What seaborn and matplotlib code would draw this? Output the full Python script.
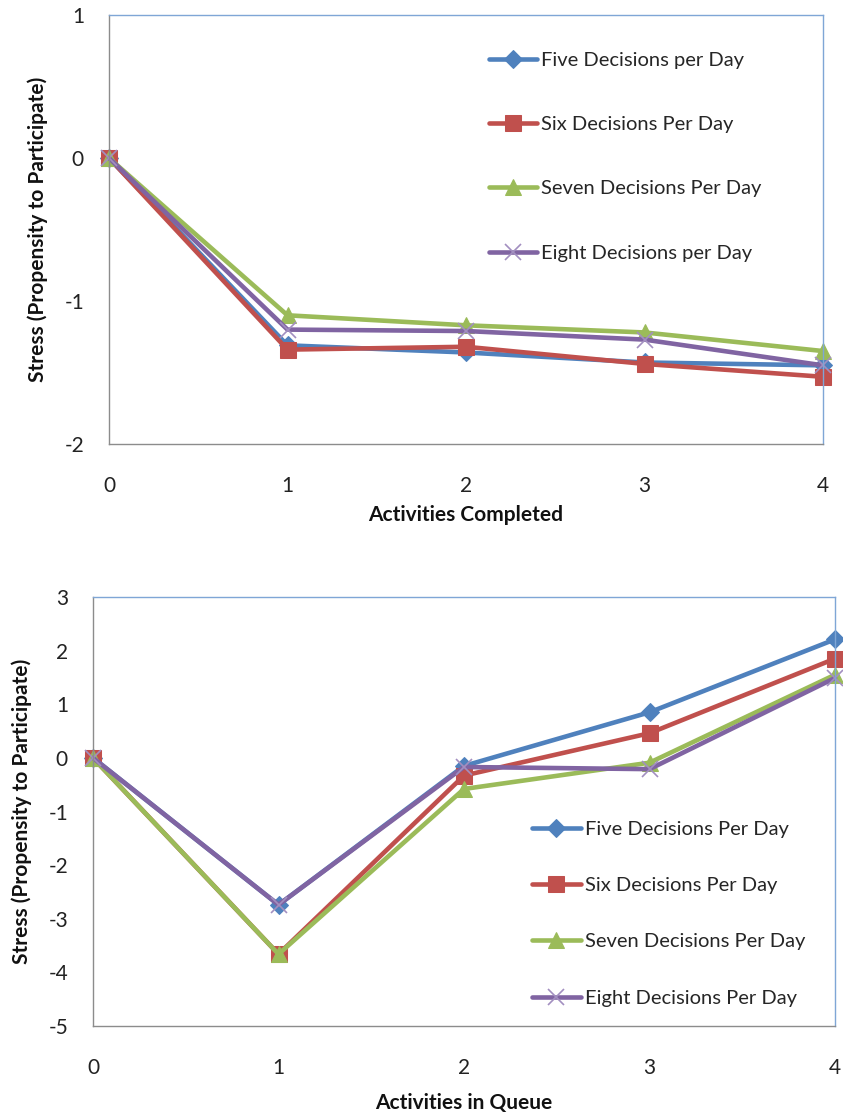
import numpy as np
import pandas as pd
import seaborn as sns
import matplotlib
matplotlib.use("Agg")
import matplotlib.pyplot as plt

# ---- data -------------------------------------------------------------
steps = [0, 1, 2, 3, 4]

completed_series = ["Five Decisions per Day", "Six Decisions Per Day",
                    "Seven Decisions Per Day", "Eight Decisions per Day"]
completed_five = [0.0, -1.31, -1.36, -1.43, -1.45]
completed_six = [0.0, -1.34, -1.32, -1.44, -1.53]
completed_seven = [0.0, -1.10, -1.17, -1.22, -1.35]
completed_eight = [0.0, -1.20, -1.21, -1.27, -1.45]

queue_series = ["Five Decisions Per Day", "Six Decisions Per Day",
                "Seven Decisions Per Day", "Eight Decisions Per Day"]
queue_five = [0.0, -2.74, -0.15, 0.85, 2.21]
queue_six = [0.0, -3.66, -0.33, 0.46, 1.85]
queue_seven = [0.0, -3.66, -0.58, -0.09, 1.55]
queue_eight = [0.0, -2.74, -0.17, -0.21, 1.49]

top_yticks = [-2, -1, 0, 1]
bottom_yticks = [-5, -4, -3, -2, -1, 0, 1, 2, 3]

y_title = "Stress (Propensity to Participate)"
top_xtitle = "Activities Completed"
bottom_xtitle = "Activities in Queue"

# ---- style ------------------------------------------------------------
sns.set_style("white")
plt.rcParams["font.family"] = ["Lato", "DejaVu Sans"]
plt.rcParams["axes.unicode_minus"] = False

colors = ["#4F81BD", "#C0504D", "#9BBB59", "#8064A2"]
markers = ["D", "s", "^", "x"]
msizes = [9, 11, 11, 12]


def draw_panel(ax, names, values, yticks, xtitle, legend_anchor, spacing,
               ylab_x, xlab_y):
    handles = []
    for name, vals, c, m, ms in zip(names, values, colors, markers, msizes):
        df = pd.DataFrame({"step": steps, "value": vals})
        if m == "x":
            style = dict(markeredgecolor="#A28FC0", markeredgewidth=1.2)
        else:
            style = dict(markeredgecolor=c, markerfacecolor=c)
        sns.lineplot(data=df, x="step", y="value", color=c, marker=m,
                     markersize=ms, linewidth=3.3, ax=ax, legend=False,
                     clip_on=False, **style)
        handles.append(ax.lines[-1])

    ax.set_xlim(0, 4)
    ax.set_ylim(yticks[0], yticks[-1])
    ax.set_xticks(steps)
    ax.set_yticks(yticks)
    ax.tick_params(axis="x", length=0, pad=23, labelsize=15,
                   labelcolor="#222222")
    ax.tick_params(axis="y", length=0, pad=18, labelsize=15,
                   labelcolor="#222222")

    for side in ["left", "bottom"]:
        ax.spines[side].set_color("#8C8C8C")
        ax.spines[side].set_linewidth(1.0)
    for side in ["top", "right"]:
        ax.spines[side].set_color("#7FA6D6")
        ax.spines[side].set_linewidth(1.0)

    ax.set_xlabel(xtitle, fontsize=15, fontweight="bold", color="#111111")
    ax.set_ylabel(y_title, fontsize=15, fontweight="bold", color="#111111")
    ax.xaxis.label.set_va("center")
    ax.yaxis.label.set_va("center")
    ax.xaxis.set_label_coords(0.5, xlab_y)
    ax.yaxis.set_label_coords(ylab_x, 0.5)

    ax.legend(handles, names, loc="upper left", bbox_to_anchor=legend_anchor,
              frameon=False, fontsize=14.5, handlelength=2.4,
              handletextpad=0.2, labelspacing=spacing, borderpad=0,
              borderaxespad=0, numpoints=1)


fig = plt.figure(figsize=(8.43, 11.16), dpi=100)
W, H = 843, 1116

ax_top = fig.add_axes([109 / W, 1 - 444 / H, 714 / W, 429 / H])
ax_bot = fig.add_axes([93 / W, 1 - 1026 / H, 742 / W, 429 / H])

draw_panel(ax_top, completed_series,
           [completed_five, completed_six, completed_seven, completed_eight],
           top_yticks, top_xtitle, (0.532, 0.914), 2.34,
           (38 - 109) / 714, (444 - 515) / 429)

draw_panel(ax_bot, queue_series,
           [queue_five, queue_six, queue_seven, queue_eight],
           bottom_yticks, bottom_xtitle, (0.592, 0.479), 1.95,
           (22 - 93) / 742, (1026 - 1103) / 429)

fig.savefig("out.png", dpi=100, facecolor="white")
